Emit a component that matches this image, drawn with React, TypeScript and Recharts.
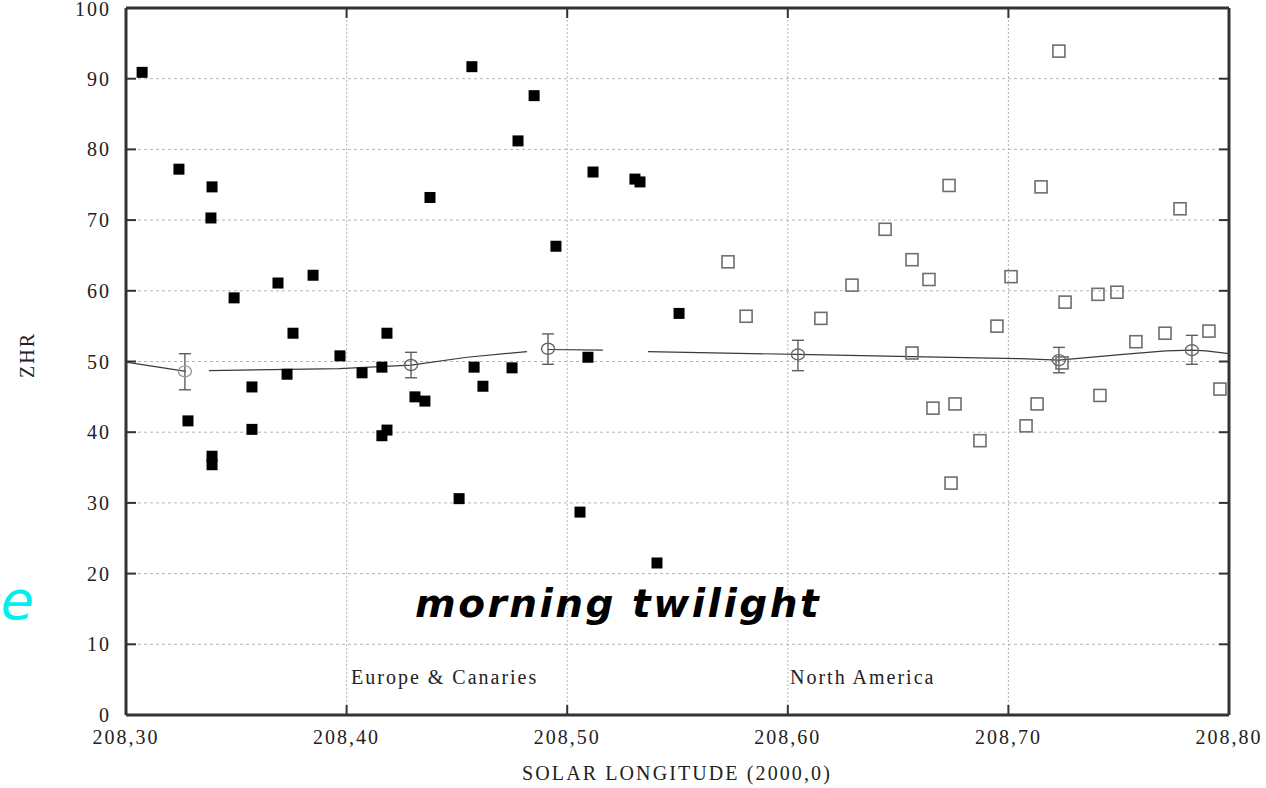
import React from 'react';
import {
  ComposedChart,
  Scatter,
  Line,
  XAxis,
  YAxis,
  CartesianGrid,
  ReferenceLine,
  ErrorBar,
} from 'recharts';

// ---- data ----
const xTicks = [208.3, 208.4, 208.5, 208.6, 208.7, 208.8];
const yTicks = [0, 10, 20, 30, 40, 50, 60, 70, 80, 90, 100];

// Europe & Canaries (filled squares)
const europeLon = [
  208.3073, 208.324, 208.3281, 208.3385, 208.339, 208.339, 208.339, 208.349, 208.3571, 208.3571,
  208.3689, 208.373, 208.3757, 208.3848, 208.397, 208.407, 208.416, 208.416, 208.4183, 208.4183,
  208.431, 208.4355, 208.4378, 208.451, 208.4568, 208.4578, 208.4618, 208.475, 208.4777, 208.485,
  208.4949, 208.5058, 208.5094, 208.5117, 208.5307, 208.533, 208.5407, 208.5507,
];
const europeZhr = [
  90.9, 77.2, 41.6, 70.3, 74.7, 36.6, 35.4, 59.0, 46.4, 40.4,
  61.1, 48.2, 54.0, 62.2, 50.8, 48.4, 49.2, 39.5, 54.0, 40.3,
  45.0, 44.4, 73.2, 30.6, 91.7, 49.2, 46.5, 49.1, 81.2, 87.6,
  66.3, 28.7, 50.6, 76.8, 75.8, 75.4, 21.5, 56.8,
];

// North America (open squares)
const americaLon = [
  208.5729, 208.5811, 208.615, 208.6291, 208.6441, 208.6563, 208.6563, 208.664, 208.6658, 208.6731,
  208.674, 208.6758, 208.6871, 208.6948, 208.7012, 208.708, 208.713, 208.7148, 208.7229, 208.7243,
  208.7257, 208.7406, 208.7415, 208.7492, 208.7578, 208.771, 208.7778, 208.7909, 208.7959,
];
const americaZhr = [
  64.1, 56.4, 56.1, 60.8, 68.7, 64.4, 51.2, 61.6, 43.4, 74.9,
  32.8, 44.0, 38.8, 55.0, 62.0, 40.9, 44.0, 74.7, 93.9, 49.8,
  58.4, 59.5, 45.2, 59.8, 52.8, 54.0, 71.6, 54.3, 46.1,
];

// averaged ZHR with error bars
const meanLon = [208.3267, 208.4292, 208.4913, 208.6046, 208.7229, 208.7832];
const meanZhr = [48.6, 49.5, 51.8, 51.0, 50.2, 51.6];
const meanErrLow = [2.6, 1.8, 2.2, 2.3, 1.8, 2.0];
const meanErrHigh = [2.5, 1.8, 2.1, 2.0, 1.8, 2.1];
const meanShade = ['#9a9a9a', '#666', '#666', '#666', '#666', '#666'];

// running mean curve (null = gap)
const curveLon = [
  208.3, 208.3272, 208.332, 208.3376, 208.3966, 208.4292, 208.4546, 208.4818, 208.486, 208.4913,
  208.5162, 208.526, 208.5366, 208.6046, 208.6563, 208.7053, 208.7229, 208.752, 208.7714, 208.7832,
  208.7896, 208.8,
];
const curveZhr: (number | null)[] = [
  49.9, 48.6, null, 48.7, 49.0, 49.5, 50.6, 51.4, null, 51.7,
  51.6, null, 51.4, 51.0, 50.7, 50.4, 50.2, 51.0, 51.5, 51.6,
  51.5, 51.1,
];

const europe = europeLon.map((lon, i) => ({ lon, zhr: europeZhr[i] }));
const america = americaLon.map((lon, i) => ({ lon, zhr: americaZhr[i] }));
const means = meanLon.map((lon, i) => ({
  lon,
  zhr: meanZhr[i],
  err: [meanErrLow[i], meanErrHigh[i]],
  shade: meanShade[i],
}));
const curve = curveLon.map((lon, i) => ({ lon, zhr: curveZhr[i] }));

// ---- layout ----
const W = 1266;
const H = 788;
const PLOT_W = 1103;
const PLOT_H = 707;
const AXIS = '#333';
const SERIF = '"Liberation Serif", "Times New Roman", serif';

const fmtLon = (v: number) => v.toFixed(2).replace('.', ',');

const YTick = (props: any) => {
  const { x, y, payload } = props;
  return (
    <g>
      <line x1={x} x2={x + 10} y1={y} y2={y} stroke={AXIS} strokeWidth={2} />
      <line x1={x + PLOT_W} x2={x + PLOT_W - 10} y1={y} y2={y} stroke={AXIS} strokeWidth={2} />
      <text
        x={x - 15}
        y={Math.max(y, 9)}
        dy="0.35em"
        textAnchor="end"
        fontFamily={SERIF}
        fontSize={20}
        letterSpacing={2}
        fill="#222"
      >
        {payload.value}
      </text>
    </g>
  );
};

const XTick = (props: any) => {
  const { x, y, payload } = props;
  return (
    <g>
      <line x1={x} x2={x} y1={y} y2={y - 10} stroke={AXIS} strokeWidth={2} />
      <line x1={x} x2={x} y1={y - PLOT_H} y2={y - PLOT_H + 10} stroke={AXIS} strokeWidth={2} />
      <text
        x={x}
        y={y + 29}
        textAnchor="middle"
        fontFamily={SERIF}
        fontSize={20}
        letterSpacing={2}
        fill="#222"
      >
        {fmtLon(payload.value)}
      </text>
    </g>
  );
};

const FilledSquare = (p: any) => (
  <rect x={p.cx - 5.5} y={p.cy - 5.5} width={11} height={11} fill="#000" />
);

const OpenSquare = (p: any) => (
  <rect
    x={p.cx - 6}
    y={p.cy - 6}
    width={12}
    height={12}
    fill="none"
    stroke="#6e6e6e"
    strokeWidth={1.6}
  />
);

const MeanCircle = (p: any) => (
  <ellipse
    cx={p.cx}
    cy={p.cy}
    rx={6.5}
    ry={5.5}
    fill="none"
    stroke={p.payload?.shade ?? '#666'}
    strokeWidth={1.4}
  />
);

export default function App() {
  return (
    <div style={{ position: 'absolute', left: 0, top: 0, width: W, height: H, background: '#fff' }}>
      <ComposedChart
        width={W}
        height={H}
        margin={{ top: 8, right: 37, left: 66, bottom: 43 }}
      >
        <CartesianGrid
          horizontal
          vertical={false}
          stroke="#b5b5b5"
          strokeDasharray="3 3"
        />
        <CartesianGrid
          horizontal={false}
          vertical
          stroke="#b5b5b5"
          strokeDasharray="2 2"
        />
        <XAxis
          type="number"
          dataKey="lon"
          domain={[208.3, 208.8]}
          ticks={xTicks}
          allowDataOverflow
          height={30}
          tickLine={false}
          tickSize={0}
          tickMargin={0}
          axisLine={{ stroke: AXIS, strokeWidth: 3 }}
          tick={<XTick />}
          interval={0}
        />
        <YAxis
          type="number"
          dataKey="zhr"
          domain={[0, 100]}
          ticks={yTicks}
          allowDataOverflow
          width={60}
          tickLine={false}
          tickSize={0}
          tickMargin={0}
          axisLine={{ stroke: AXIS, strokeWidth: 3 }}
          tick={<YTick />}
          interval={0}
        />
        <ReferenceLine y={100} stroke={AXIS} strokeWidth={3} />
        <ReferenceLine x={208.8} stroke={AXIS} strokeWidth={3} />
        <Line
          data={curve}
          dataKey="zhr"
          type="linear"
          stroke="#3a3a3a"
          strokeWidth={1.2}
          dot={false}
          activeDot={false}
          connectNulls={false}
          isAnimationActive={false}
        />
        <Scatter
          data={europe}
          dataKey="zhr"
          shape={<FilledSquare />}
          isAnimationActive={false}
        />
        <Scatter
          data={america}
          dataKey="zhr"
          shape={<OpenSquare />}
          isAnimationActive={false}
        />
        <Scatter data={means} dataKey="zhr" shape={<MeanCircle />} isAnimationActive={false}>
          <ErrorBar dataKey="err" direction="y" width={6} stroke="#5e5e5e" strokeWidth={1.4} />
        </Scatter>
      </ComposedChart>

      <svg
        width={W}
        height={H}
        style={{ position: 'absolute', left: 0, top: 0, pointerEvents: 'none' }}
      >
        <text
          x={27}
          y={355}
          transform="rotate(-90 27 355)"
          textAnchor="middle"
          dy="0.35em"
          fontFamily={SERIF}
          fontSize={20}
          letterSpacing={2}
          fill="#222"
        >
          ZHR
        </text>
        <text
          x={677}
          y={780}
          textAnchor="middle"
          fontFamily={SERIF}
          fontSize={20}
          letterSpacing={2.1}
          fill="#222"
        >
          SOLAR LONGITUDE (2000,0)
        </text>
        <text x={351} y={684} fontFamily={SERIF} fontSize={20} letterSpacing={2} fill="#222">
          Europe &amp; Canaries
        </text>
        <text x={790} y={684} fontFamily={SERIF} fontSize={20} letterSpacing={2} fill="#222">
          North America
        </text>
        <text
          x={415}
          y={617}
          fontFamily={'"DejaVu Sans", Verdana, sans-serif'}
          fontSize={39}
          fontWeight="bold"
          fontStyle="italic"
          letterSpacing={2.5}
          fill="#000"
        >
          morning twilight
        </text>
        <text
          x={1}
          y={619}
          fontFamily={'"DejaVu Sans", Verdana, sans-serif'}
          fontSize={54}
          fontStyle="italic"
          fill="#00f0f0"
        >
          e
        </text>
      </svg>
    </div>
  );
}
